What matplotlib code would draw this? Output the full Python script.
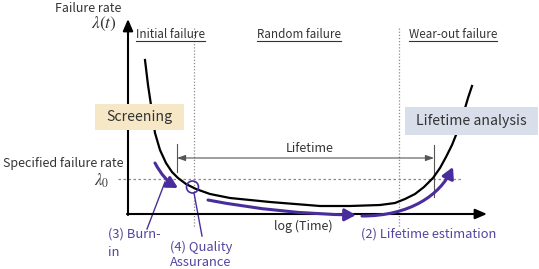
import matplotlib.pyplot as plt
import numpy as np
from matplotlib.patches import FancyArrowPatch, Rectangle, Circle
from matplotlib.path import Path

plt.rcParams['font.family'] = ['Noto Sans CJK JP', 'DejaVu Sans']
plt.rcParams['mathtext.fontset'] = 'stix'

# bathtub curve (pixel coords, y down)
curve_x = [145, 148, 151, 155, 160, 166, 172, 178, 186, 196, 210, 230, 250, 270,
           295, 320, 350, 380, 395, 405, 415, 424, 433, 440, 446, 452, 458, 463, 468, 472]
curve_y = [60, 85, 105, 133, 150, 163, 172, 178, 184, 189, 194, 198, 200, 202,
           204, 206, 206, 205, 203, 199, 194, 187, 178, 168, 157, 145, 130, 115, 98, 86]

phase_labels = ['Initial failure', 'Random failure', 'Wear-out failure']
phase_x = [136, 257, 409]
phase_bounds = [194, 399]
lambda0_y = 179
life_start, life_end = 177, 434

TXT = '#333333'
PUR = '#4a2d9c'
PUR_T = '#54449e'
GRID = '#8a8a8a'
FS = 9.0
FS_P = 9.3

fig = plt.figure(figsize=(5.39, 2.69), dpi=100)
ax = fig.add_axes([0, 0, 1, 1])
ax.set_xlim(0, 539)
ax.set_ylim(269, 0)
ax.axis('off')

# axes with arrows
ax.annotate('', xy=(128, 19), xytext=(128, 215),
            arrowprops=dict(arrowstyle='-|>,head_length=0.7,head_width=0.3', color='black', lw=1.5, shrinkA=0, shrinkB=0))
ax.annotate('', xy=(487, 214), xytext=(127, 214),
            arrowprops=dict(arrowstyle='-|>,head_length=0.7,head_width=0.3', color='black', lw=1.5, shrinkA=0, shrinkB=0))

# phase boundaries and lambda0 line
for xb in phase_bounds:
    ax.plot([xb, xb], [28, 228], color=GRID, lw=0.9, ls=(0, (1, 1.5)))
ax.plot([118, 462], [lambda0_y, lambda0_y], color=GRID, lw=0.9, ls=(0, (2, 2)))

# curve
ax.plot(curve_x, curve_y, color='black', lw=1.6, zorder=3)

# lifetime dimension
ax.plot([life_start, life_start], [144, 172], color='#555555', lw=0.8)
ax.plot([life_end, life_end], [145, 197], color='#555555', lw=0.8)
ax.annotate('', xy=(life_start, 158), xytext=(life_end, 158),
            arrowprops=dict(arrowstyle='<|-|>,head_length=0.5,head_width=0.18', color='#555555', lw=0.8,
                            shrinkA=0, shrinkB=0))
ax.text(310, 149, 'Lifetime', fontsize=FS, color=TXT, ha='center', va='center')

# texts
ax.text(88, 8, 'Failure rate', fontsize=FS, color=TXT, ha='center', va='center')
ax.text(117, 24, r'$\lambda(t)$', fontsize=12.5, color=TXT, ha='right', va='center')
ax.text(63, 164, 'Specified failure rate', fontsize=FS, color=TXT, ha='center', va='center')
ax.text(109, 181, r'$\lambda_0$', fontsize=12, color=TXT, ha='right', va='center')
ax.text(303, 226, 'log (Time)', fontsize=FS, color=TXT, ha='center', va='center')

fig.canvas.draw()
r = fig.canvas.get_renderer()
for lab, x0 in zip(phase_labels, phase_x):
    t = ax.text(x0, 35, lab, fontsize=8.4, color=TXT, ha='left', va='center')
    bb = t.get_window_extent(r)
    x1 = ax.transData.inverted().transform((bb.x1, bb.y0))[0]
    ax.plot([x0, x1], [41, 41], color=TXT, lw=0.8)

# boxes
ax.add_patch(Rectangle((95, 104), 89, 26, facecolor='#f6e7c7', edgecolor='none', zorder=5))
ax.text(139.5, 117, 'Screening', fontsize=10.2, color=TXT, ha='center', va='center', zorder=6)
ax.add_patch(Rectangle((405, 107), 133, 28, facecolor='#d9deeb', edgecolor='none', zorder=5))
ax.text(471, 121, 'Lifetime analysis', fontsize=10.2, color=TXT, ha='center', va='center', zorder=6)

# purple arrows
ast = '-|>,head_length=0.55,head_width=0.3'
burn = Path([(155, 163), (164, 180), (178, 188)], [Path.MOVETO, Path.CURVE3, Path.CURVE3])
ax.add_patch(FancyArrowPatch(path=burn, arrowstyle=ast, mutation_scale=12, color=PUR, lw=2.2, zorder=4))
rand = Path([(208, 200), (280, 214), (356, 215)], [Path.MOVETO, Path.CURVE3, Path.CURVE3])
ax.add_patch(FancyArrowPatch(path=rand, arrowstyle=ast, mutation_scale=12, color=PUR, lw=2.2, zorder=4))
wear = Path([(362, 216), (410, 216), (440, 195), (453, 167)],
            [Path.MOVETO, Path.CURVE4, Path.CURVE4, Path.CURVE4])
ax.add_patch(FancyArrowPatch(path=wear, arrowstyle=ast, mutation_scale=12, color=PUR, lw=2.2, zorder=4))

ax.add_patch(Circle((192.5, 187), 6, facecolor='none', edgecolor=PUR, lw=1.2, zorder=4))

# leader lines
ax.plot([165, 147], [182, 229], color=PUR, lw=1.0)
ax.plot([194, 202], [193, 236], color=PUR, lw=1.0)

ax.text(108, 234, '(3) Burn-', fontsize=FS_P, color=PUR_T, ha='left', va='center')
ax.text(108, 252, 'in', fontsize=FS_P, color=PUR_T, ha='left', va='center')
ax.text(170, 247, '(4) Quality', fontsize=FS_P, color=PUR_T, ha='left', va='center')
ax.text(170, 263, 'Assurance', fontsize=FS_P, color=PUR_T, ha='left', va='center')
ax.text(361, 234, '(2) Lifetime estimation', fontsize=FS_P, color=PUR_T, ha='left', va='center')

fig.savefig('out.png', dpi=100)
